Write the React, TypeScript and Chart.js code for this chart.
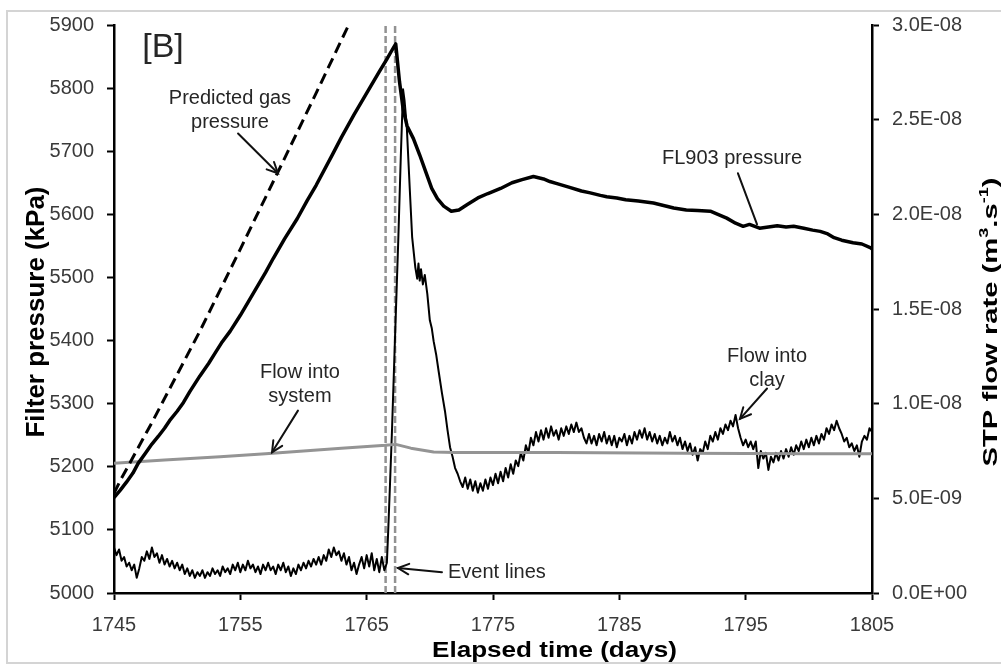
import React, { useEffect, useRef } from 'react';
import { Chart, registerables } from 'chart.js';

Chart.register(...registerables);

// ---------- axis ticks ----------
const xTickValues = [1745, 1755, 1765, 1775, 1785, 1795, 1805];
const pressureTickValues = [5000, 5100, 5200, 5300, 5400, 5500, 5600, 5700, 5800, 5900];
// flow axis in units of 1e-9 m3/s
const flowTickValues = [0, 5, 10, 15, 20, 25, 30];

// ---------- FL903 pressure (kPa) ----------
const pressureDays = [
  1745.0, 1745.5, 1746.0, 1746.5, 1746.9, 1747.5, 1748.0, 1748.5, 1749.0, 1749.4,
  1750.0, 1750.5, 1751.0, 1751.8, 1752.5, 1753.0, 1753.5, 1754.2, 1755.0, 1756.0,
  1757.0, 1757.6, 1758.5, 1759.5, 1760.3, 1761.0, 1762.3, 1763.0, 1764.0, 1765.0,
  1766.0, 1766.6, 1767.0, 1767.3,
  1767.6, 1767.9, 1768.2, 1768.7, 1769.2, 1769.7, 1770.15, 1770.6, 1771.1, 1771.7,
  1772.3, 1773.0, 1773.8, 1774.6, 1775.6, 1776.5, 1777.3, 1778.2, 1779.0, 1779.5,
  1780.0, 1781.0, 1782.0, 1782.7, 1783.5, 1784.0, 1784.8, 1785.5, 1786.5, 1787.7,
  1788.5, 1789.3, 1790.3, 1791.2, 1792.2, 1792.8, 1793.5, 1794.2, 1794.8, 1795.3,
  1796.1, 1796.8, 1797.5, 1798.2, 1798.8, 1799.6, 1800.3, 1800.9, 1801.5, 1802.0,
  1802.6, 1803.5, 1804.2, 1804.9, 1805.0,
];
const pressureKPa = [
  5151, 5163, 5176, 5190, 5205, 5222, 5236, 5248, 5261, 5273,
  5288, 5302, 5319, 5344, 5364, 5380, 5396, 5415, 5440, 5474,
  5508, 5530, 5561, 5593, 5622, 5646, 5695, 5722, 5758, 5792,
  5826, 5846, 5860, 5870,
  5810, 5765, 5740, 5720, 5694, 5666, 5641, 5625, 5613, 5605,
  5607, 5616, 5626, 5633, 5641, 5650, 5655, 5660, 5656, 5652,
  5649, 5643, 5637, 5634, 5630, 5628, 5626, 5623, 5621, 5618,
  5614, 5610, 5607, 5606, 5605, 5600, 5594, 5586, 5581, 5584,
  5578, 5580, 5582, 5580, 5581, 5578, 5575, 5573, 5569, 5563,
  5559, 5555, 5553, 5547, 5545,
];

// ---------- predicted gas pressure (kPa) ----------
const predictedDays = [1745.0, 1745.6, 1748.0, 1751.8, 1755.0, 1758.0, 1761.0, 1763.5];
const predictedKPa = [5158, 5182, 5270, 5415, 5545, 5668, 5792, 5897];

// ---------- flow into system (1e-9 m3/s) ----------
const systemDays = [1745, 1749, 1753.4, 1757, 1760, 1763, 1766.5, 1767.3, 1768.5, 1770.3, 1772, 1780, 1790, 1800, 1805];
const systemFlow = [6.85, 7.02, 7.2, 7.36, 7.5, 7.64, 7.8, 7.85, 7.65, 7.45, 7.42, 7.42, 7.38, 7.36, 7.35];

// ---------- flow into clay (1e-9 m3/s) ----------
const CLAY_STEP = 0.2;
const CLAY_PRE_START = 1745.0;
const clayPreFlow = [
  2.4, 2.0, 2.3, 1.7, 1.9, 1.4,
  1.6, 1.2, 1.5, 0.8, 1.3,
  1.9, 1.7, 2.2, 1.8, 2.4,
  1.9, 2.1, 1.6, 2.0, 1.5,
  1.8, 1.4, 1.7, 1.3, 1.6,
  1.2, 1.5, 1.0, 1.3, 0.9,
  1.2, 0.8, 1.1, 0.9, 1.2,
  0.8, 1.1, 0.9, 1.3, 1.0,
  1.2, 0.9, 1.4, 1.1, 1.3,
  1.0, 1.5, 1.2, 1.6, 1.1,
  1.5, 1.2, 1.7, 1.3, 1.5,
  1.1, 1.4, 1.0, 1.5, 1.2,
  1.6, 1.2, 1.4, 1.0, 1.5,
  1.2, 1.6, 1.1, 1.4, 0.9,
  1.3, 1.0, 1.5, 1.2, 1.6,
  1.3, 1.7, 1.4, 1.8, 1.5,
  1.9, 1.5, 2.0, 1.7, 2.3,
  1.9, 2.4, 2.0, 2.2, 1.7,
  2.1, 1.5, 1.9, 1.2, 1.6,
  1.0, 1.5, 1.9, 1.3, 2.0,
  1.4, 2.1, 1.2, 1.8, 1.1,
  1.9, 1.2, 1.6,
];
const claySpikeDays = [
  1766.7, 1766.85, 1767.0, 1767.26, 1767.5, 1767.7, 1767.88, 1768.0, 1768.17, 1768.4,
  1768.6, 1768.85, 1769.0, 1769.1, 1769.2, 1769.3, 1769.45, 1769.6, 1769.8, 1770.0,
  1770.15, 1770.3, 1770.5, 1770.7, 1770.95, 1771.2, 1771.4, 1771.6, 1771.8, 1772.0,
  1772.2, 1772.4,
];
const claySpikeFlow = [
  3.2, 5.8, 8.5, 13.8, 18.6, 23.0, 26.6, 26.0, 24.7, 21.5,
  18.8, 17.2, 16.6, 17.4, 16.5, 17.1, 16.3, 16.8, 15.8, 14.4,
  14.0, 13.3, 12.6, 11.7, 10.6, 9.6, 8.6, 7.7, 7.2, 6.6,
  6.3, 5.9,
];
const CLAY_POST_START = 1772.6;
const clayPostFlow = [
  5.6, 6.1, 5.5, 6.0, 5.4,
  5.9, 5.3, 5.8, 5.4, 6.0,
  5.5, 6.1, 5.7, 6.3, 5.8,
  6.4, 5.9, 6.6, 6.1, 6.8,
  6.3, 7.0, 6.7, 7.4, 7.0,
  7.8, 7.4, 8.2, 7.8, 8.5,
  8.0, 8.6, 8.1, 8.7, 8.2,
  8.8, 8.3, 8.6, 8.1, 8.7,
  8.3, 8.8, 8.4, 8.9, 8.5,
  9.0, 8.5, 8.7, 8.2, 7.9,
  8.4, 7.9, 8.3, 7.8, 8.4,
  8.0, 8.5, 7.9, 8.3, 7.8,
  8.3, 7.7, 8.2, 8.0, 8.4,
  7.8, 8.3, 7.9, 8.5, 8.1,
  8.6, 8.2, 8.7, 8.1, 8.5,
  8.0, 8.4, 7.9, 8.3, 7.8,
  8.2, 7.9, 8.5, 8.0, 8.3,
  7.8, 8.2, 7.6, 8.0, 7.5,
  7.9, 7.3, 7.7, 7.0, 7.6,
  7.4, 8.0, 7.6, 8.3, 8.0,
  8.5, 8.1, 8.7, 8.4, 8.9,
  8.6, 9.1, 8.8, 9.4, 8.7,
  8.2, 7.8, 8.1, 7.7, 8.0,
  7.6, 8.0, 6.6, 7.5, 7.1,
  7.4, 6.5, 7.2, 6.9, 7.4,
  7.0, 7.5, 7.1, 7.6, 7.2,
  7.7, 7.3, 7.8, 7.5, 8.0,
  7.6, 8.1, 7.7, 8.2, 7.8,
  8.3, 7.9, 8.4, 8.1, 8.7,
  8.4, 8.9, 8.6, 9.1, 8.7,
  8.4, 8.0, 8.2, 7.7, 7.9,
  7.5, 7.8, 7.2, 8.0, 8.3,
  8.1, 8.7, 8.5,
];

// ---------- event lines (days) ----------
const eventDays = [1766.5, 1767.25];

// ---------- annotations (data coordinates: day, kPa) ----------
const FONT = '"Liberation Sans", Arial, Helvetica, sans-serif';
const labelTexts = [
  { lines: ['[B]'], day: 1748.88, kpa: 5864, size: 34, align: 'center' },
  { lines: ['Predicted gas', 'pressure'], day: 1754.18, kpa: 5783, size: 20, align: 'center' },
  { lines: ['FL903 pressure'], day: 1793.92, kpa: 5688, size: 20, align: 'center' },
  { lines: ['Flow into', 'system'], day: 1759.72, kpa: 5349, size: 20, align: 'center' },
  { lines: ['Flow into', 'clay'], day: 1796.69, kpa: 5374, size: 20, align: 'center' },
  { lines: ['Event lines'], day: 1771.44, kpa: 5033, size: 20, align: 'left' },
];
const arrows = [
  { from: [1754.82, 5728], to: [1757.98, 5665], head: true },
  { from: [1794.39, 5665], to: [1795.9, 5584], head: false },
  { from: [1759.56, 5289], to: [1757.51, 5223], head: true },
  { from: [1796.69, 5324], to: [1794.55, 5276], head: true },
  { from: [1770.96, 5033], to: [1767.48, 5039.5], head: true },
];

function formatFlow(v: number): string {
  if (Math.abs(v) < 1e-9) return '0.0E+00';
  const [m, e] = v.toExponential(1).split('e');
  const n = parseInt(e, 10) - 9;
  return m + 'E' + (n < 0 ? '-' : '+') + String(Math.abs(n)).padStart(2, '0');
}

type Seg = { t: string; sup?: boolean };

function drawTitle(ctx: CanvasRenderingContext2D, segs: Seg[], cx: number, cy: number, rot: number, size: number, target: number) {
  ctx.save();
  const f = (s: number) => `bold ${s}px ${FONT}`;
  const supSize = size * 0.62;
  let W = 0;
  const widths = segs.map((s) => {
    ctx.font = f(s.sup ? supSize : size);
    const w = ctx.measureText(s.t).width;
    W += w;
    return w;
  });
  ctx.translate(cx, cy);
  ctx.rotate(rot);
  ctx.scale(target / W, 1);
  ctx.fillStyle = '#000';
  ctx.textAlign = 'left';
  ctx.textBaseline = 'alphabetic';
  let x = -W / 2;
  segs.forEach((s, i) => {
    ctx.font = f(s.sup ? supSize : size);
    ctx.fillText(s.t, x, s.sup ? -size * 0.42 : 0);
    x += widths[i];
  });
  ctx.restore();
}

function drawArrow(ctx: CanvasRenderingContext2D, x1: number, y1: number, x2: number, y2: number, head: boolean) {
  ctx.beginPath();
  ctx.moveTo(x1, y1);
  ctx.lineTo(x2, y2);
  ctx.stroke();
  if (head) {
    const a = Math.atan2(y2 - y1, x2 - x1);
    const L = 12;
    const w = 0.45;
    ctx.beginPath();
    ctx.moveTo(x2 - L * Math.cos(a - w), y2 - L * Math.sin(a - w));
    ctx.lineTo(x2, y2);
    ctx.lineTo(x2 - L * Math.cos(a + w), y2 - L * Math.sin(a + w));
    ctx.stroke();
  }
}

const overlayPlugin = {
  id: 'overlay',
  beforeDraw(chart: any) {
    const ctx: CanvasRenderingContext2D = chart.ctx;
    ctx.save();
    ctx.fillStyle = '#fff';
    ctx.fillRect(0, 0, chart.width, chart.height);
    ctx.strokeStyle = '#d4d4d4';
    ctx.lineWidth = 2;
    ctx.strokeRect(7, 11, chart.width + 20, 652);
    ctx.restore();
  },
  afterDraw(chart: any) {
    const ctx: CanvasRenderingContext2D = chart.ctx;
    const xs = chart.scales.x;
    const ys = chart.scales.y;
    ctx.save();
    ctx.fillStyle = '#262626';
    ctx.textBaseline = 'middle';
    labelTexts.forEach((l) => {
      ctx.font = `${l.size}px ${FONT}`;
      ctx.textAlign = l.align as CanvasTextAlign;
      const px = xs.getPixelForValue(l.day);
      const py = ys.getPixelForValue(l.kpa);
      l.lines.forEach((t, i) => ctx.fillText(t, px, py + i * 23.5));
    });
    ctx.strokeStyle = '#111';
    ctx.lineWidth = 2;
    ctx.lineCap = 'round';
    arrows.forEach((a) => {
      drawArrow(
        ctx,
        xs.getPixelForValue(a.from[0]), ys.getPixelForValue(a.from[1]),
        xs.getPixelForValue(a.to[0]), ys.getPixelForValue(a.to[1]),
        a.head,
      );
    });
    ctx.restore();
    drawTitle(ctx, [{ t: 'Elapsed time (days)' }], 554.5, 657, 0, 22, 245);
    drawTitle(ctx, [{ t: 'Filter pressure (kPa)' }], 43.5, 312, -Math.PI / 2, 25.5, 251);
    drawTitle(
      ctx,
      [{ t: 'STP flow rate (m' }, { t: '3', sup: true }, { t: '.s' }, { t: '-1', sup: true }, { t: ')' }],
      996.7, 322, -Math.PI / 2, 21, 289,
    );
  },
};

export default function App() {
  const ref = useRef<HTMLCanvasElement | null>(null);

  useEffect(() => {
    if (!ref.current) return;
    const pressurePts = pressureDays.map((d, i) => ({ x: d, y: pressureKPa[i] }));
    const predictedPts = predictedDays.map((d, i) => ({ x: d, y: predictedKPa[i] }));
    const systemPts = systemDays.map((d, i) => ({ x: d, y: systemFlow[i] }));
    const clayPts = [
      ...clayPreFlow.map((v, i) => ({ x: CLAY_PRE_START + i * CLAY_STEP, y: v })),
      ...claySpikeDays.map((d, i) => ({ x: d, y: claySpikeFlow[i] })),
      ...clayPostFlow.map((v, i) => ({ x: CLAY_POST_START + i * CLAY_STEP, y: v })),
    ];
    const eventSets = eventDays.map((d) => ({
      data: [{ x: d, y: pressureTickValues[0] }, { x: d, y: pressureTickValues[pressureTickValues.length - 1] }],
      yAxisID: 'y',
      borderColor: '#929292',
      borderWidth: 2.5,
      borderDash: [7, 3],
      pointRadius: 0,
    }));

    const tickFont = { family: FONT, size: 20 };
    const gridCfg = { display: true, drawOnChartArea: false, drawTicks: true, tickLength: 7, tickColor: '#000', tickWidth: 2 };
    const borderCfg = { display: true, color: '#000', width: 2.5 };

    const chart = new Chart(ref.current, {
      type: 'line',
      data: {
        datasets: [
          { data: pressurePts, yAxisID: 'y', borderColor: '#000', borderWidth: 3.5, pointRadius: 0, tension: 0 },
          { data: predictedPts, yAxisID: 'y', borderColor: '#000', borderWidth: 3, borderDash: [11, 6], pointRadius: 0, tension: 0 },
          { data: systemPts, yAxisID: 'y1', borderColor: '#949494', borderWidth: 3, pointRadius: 0, tension: 0 },
          { data: clayPts, yAxisID: 'y1', borderColor: '#000', borderWidth: 2, pointRadius: 0, tension: 0 },
          ...eventSets,
        ] as any,
      },
      options: {
        responsive: false,
        maintainAspectRatio: false,
        devicePixelRatio: 1,
        animation: false,
        layout: { padding: { top: 23, left: 0, right: 0, bottom: 0 } },
        plugins: { legend: { display: false }, tooltip: { enabled: false } },
        elements: { line: { borderJoinStyle: 'round' } },
        scales: {
          x: {
            type: 'linear',
            min: xTickValues[0],
            max: xTickValues[xTickValues.length - 1],
            afterBuildTicks: (s: any) => { s.ticks = xTickValues.map((v) => ({ value: v })); },
            afterFit: (s: any) => { s.height = 73; },
            grid: gridCfg,
            border: borderCfg,
            ticks: { font: tickFont, color: '#3a3a3a', padding: 13, maxRotation: 0, autoSkip: false, callback: (v: any) => String(v) },
          },
          y: {
            type: 'linear',
            position: 'left',
            min: pressureTickValues[0],
            max: pressureTickValues[pressureTickValues.length - 1],
            afterBuildTicks: (s: any) => { s.ticks = pressureTickValues.map((v) => ({ value: v })); },
            afterFit: (s: any) => { s.width = 114; },
            grid: gridCfg,
            border: borderCfg,
            ticks: { font: tickFont, color: '#3a3a3a', padding: 13, autoSkip: false, callback: (v: any) => String(v) },
          },
          y1: {
            type: 'linear',
            position: 'right',
            min: flowTickValues[0],
            max: flowTickValues[flowTickValues.length - 1],
            afterBuildTicks: (s: any) => { s.ticks = flowTickValues.map((v) => ({ value: v })); },
            afterFit: (s: any) => { s.width = 129; },
            grid: gridCfg,
            border: borderCfg,
            ticks: { font: tickFont, color: '#3a3a3a', padding: 13, autoSkip: false, callback: (v: any) => formatFlow(Number(v)) },
          },
        },
      } as any,
      plugins: [overlayPlugin],
    });
    return () => chart.destroy();
  }, []);

  return (
    <div style={{ position: 'fixed', left: 0, top: 0, width: 1001, height: 666, background: '#fff' }}>
      <canvas ref={ref} width={1001} height={666} style={{ display: 'block', width: 1001, height: 666 }} />
    </div>
  );
}
